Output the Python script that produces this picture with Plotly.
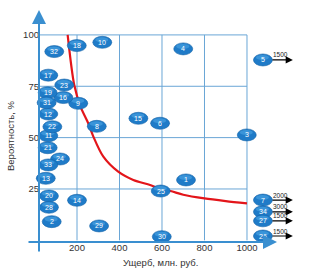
import plotly.graph_objects as go

# ---------------- data ----------------
risk_ids = [1, 2, 3, 4, 6, 8, 9, 10, 11, 12, 13, 14, 15, 16, 17, 18, 19, 20,
            21, 22, 23, 24, 25, 28, 29, 30, 31, 32, 33]
damage = [713, 81, 999, 700, 591, 293, 206, 319, 65, 65, 53, 200, 489, 136, 65,
          199, 62, 68, 62, 84, 140, 120, 594, 68, 304, 599, 57, 93, 65]
probability = [29.4, 9.1, 51.3, 93.2, 57.0, 55.5, 66.7, 96.4, 50.9, 61.5, 30.2,
               19.5, 59.4, 69.5, 80.4, 94.8, 71.9, 21.6, 45.1, 55.3, 75.6, 39.6,
               24.0, 16.1, 7.0, 1.8, 67.0, 91.9, 36.7]

# risks whose damage is beyond the axis (shown at the right edge with an arrow)
off_ids = [5, 7, 34, 27, 26]
off_damage = [1500, 2000, 3000, 1500, 1500]
off_probability = [87.8, 19.6, 13.9, 9.5, 2.1]

# acceptable-risk boundary curve
curve_x = [156, 187, 217, 253, 277, 324, 394, 465, 544, 600, 640, 700, 800, 900, 1000]
curve_y = [100, 75.6, 65, 57, 50.5, 40.7, 33.4, 29.4, 26.9, 24.8, 24.0, 22.2, 20.4, 19.1, 18.0]

x_ticks = [200, 400, 600, 800, 1000]
y_ticks = [25, 50, 75, 100]

# ---------------- style / layout ----------------
W, H = 310, 275
L, R, T, B = 27, 5, 8, 17          # plot area margins (px)
X_MIN, X_MAX = -35.3, 1273.0
Y_MIN, Y_MAX = -8.6, 113.1
AXIS_X = 21                         # data x where the vertical axis sits
OFF_X = 1075                        # display position for off-scale risks
AXIS_BLUE = "#3a8fd0"
GRID_BLUE = "#6aa6d6"
BUBBLE = "#1f7bc8"
FONT = "Liberation Sans, Arial, sans-serif"

pw, ph = W - L - R, H - T - B


def px_to_paper_x(px):
    return (px - L) / pw


def py_to_paper_y(py):
    return (H - B - py) / ph


def data_to_paper_x(x):
    return (x - X_MIN) / (X_MAX - X_MIN)


def data_to_paper_y(y):
    return (y - Y_MIN) / (Y_MAX - Y_MIN)


fig = go.Figure()

# boundary curve
fig.add_trace(go.Scatter(
    x=curve_x, y=curve_y, mode="lines",
    line=dict(color="#e3151a", width=2.2, shape="spline", smoothing=0.8),
    hoverinfo="skip", showlegend=False))

shapes = []
# grid
for xv in x_ticks:
    shapes.append(dict(type="line", xref="x", yref="y", x0=xv, x1=xv, y0=0, y1=100,
                       line=dict(color=GRID_BLUE, width=1), layer="below"))
for yv in y_ticks:
    shapes.append(dict(type="line", xref="x", yref="y", x0=AXIS_X, x1=1000, y0=yv, y1=yv,
                       line=dict(color=GRID_BLUE, width=1), layer="below"))

# bubbles
all_x = damage + [OFF_X] * len(off_ids)
all_y = probability + off_probability
all_ids = risk_ids + off_ids
for xv, yv in zip(all_x, all_y):
    shapes.append(dict(type="circle", xref="x", yref="y", xsizemode="pixel", ysizemode="pixel",
                       xanchor=xv, yanchor=yv, x0=-9.5, x1=9.5, y0=-6, y1=6,
                       fillcolor=BUBBLE, line=dict(color="#1463a8", width=0.6), layer="above"))
    shapes.append(dict(type="circle", xref="x", yref="y", xsizemode="pixel", ysizemode="pixel",
                       xanchor=xv, yanchor=yv, x0=-7, x1=6, y0=0, y1=5,
                       fillcolor="#5cb3ee", opacity=0.45, line=dict(width=0), layer="above"))

annotations = []
# bubble numbers
for i, xv, yv in zip(all_ids, all_x, all_y):
    annotations.append(dict(x=xv, y=yv, xref="x", yref="y", text=str(i), showarrow=False,
                            xanchor="center", yanchor="middle",
                            font=dict(family=FONT, size=7, color="white")))

# off-scale arrows with their damage values
for v, yv in zip(off_damage, off_probability):
    annotations.append(dict(x=1216, y=yv, xref="x", yref="y", ax=1113, ay=yv,
                            axref="x", ayref="y", text="", showarrow=True,
                            arrowhead=2, arrowsize=1.2, arrowwidth=1.2, arrowcolor="black"))
    annotations.append(dict(x=1160, y=yv, xref="x", yref="y", text=str(v), showarrow=False,
                            xanchor="center", yanchor="middle",
                            yshift=5, font=dict(family=FONT, size=6.5, color="#222")))

# axes as arrows
annotations.append(dict(xref="paper", yref="paper", x=px_to_paper_x(39), y=py_to_paper_y(10),
                        ax=0, ay=243, axref="pixel", ayref="pixel", text="", showarrow=True,
                        arrowhead=2, arrowsize=1.4, arrowwidth=2, arrowcolor=AXIS_BLUE))
annotations.append(dict(xref="paper", yref="paper", x=px_to_paper_x(277), y=py_to_paper_y(242),
                        ax=-250, ay=0, axref="pixel", ayref="pixel", text="", showarrow=True,
                        arrowhead=2, arrowsize=1.4, arrowwidth=2, arrowcolor=AXIS_BLUE))

# axis titles
annotations.append(dict(xref="paper", yref="paper", x=px_to_paper_x(160), y=py_to_paper_y(262),
                        xanchor="center", yanchor="middle",
                        text="Ущерб, млн. руб.", showarrow=False,
                        font=dict(family=FONT, size=9.5, color="#333")))
annotations.append(dict(xref="paper", yref="paper", x=px_to_paper_x(10), y=py_to_paper_y(136),
                        xanchor="center", yanchor="middle",
                        text="Вероятность, %", showarrow=False, textangle=-90,
                        font=dict(family=FONT, size=9.5, color="#333")))

fig.update_layout(
    width=W, height=H,
    margin=dict(l=L, r=R, t=T, b=B, pad=0),
    paper_bgcolor="white", plot_bgcolor="white",
    showlegend=False,
    shapes=shapes, annotations=annotations,
    xaxis=dict(range=[X_MIN, X_MAX], showgrid=False, zeroline=False, showline=False,
               tickvals=x_ticks, ticktext=[str(v) for v in x_ticks],
               anchor="free", position=data_to_paper_y(0), ticks="",
               tickfont=dict(family=FONT, size=9.5, color="#333"), fixedrange=True),
    yaxis=dict(range=[Y_MIN, Y_MAX], showgrid=False, zeroline=False, showline=False,
               tickvals=y_ticks, ticktext=[str(v) for v in y_ticks],
               anchor="free", position=data_to_paper_x(AXIS_X), ticks="",
               tickfont=dict(family=FONT, size=9.5, color="#333"), fixedrange=True),
)

fig.write_html("out.html")
